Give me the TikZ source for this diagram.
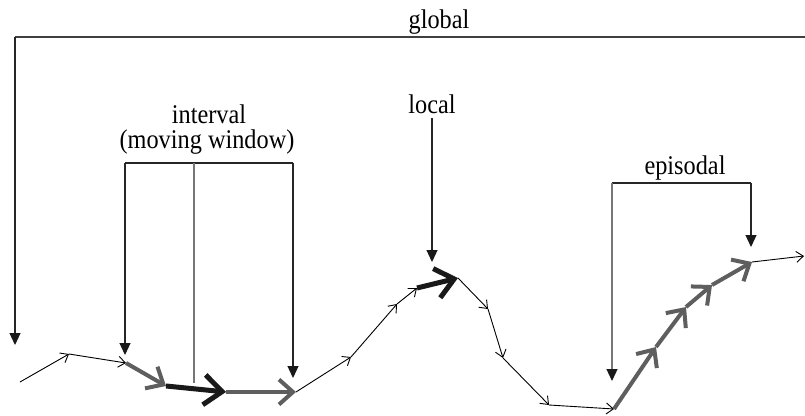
\documentclass[tikz,border=0pt]{standalone}
\usepackage{fontspec}
\setmainfont[FakeStretch=0.9]{Liberation Serif}
\usetikzlibrary{arrows.meta}
\definecolor{dgray}{HTML}{5E5E5E}
\definecolor{lgray}{HTML}{777777}
\begin{document}
\begin{tikzpicture}[x=1pt,y=-1pt,
  lbl/.style={font=\fontsize{27}{30}\selectfont, inner sep=0pt, anchor=base},
  seg/.style={black, line width=0.9pt, -{Straight Barb[length=7pt,width=11pt]}},
  gseg/.style={dgray, line width=4pt, -{Straight Barb[length=14pt,width=25pt]}},
  bseg/.style={black!90, line width=5pt, -{Straight Barb[length=18pt,width=30pt]}},
  brk/.style={line width=1.2pt, black!85},
  pointer/.style={brk, -{Triangle[length=12pt,width=11pt,color=black!90]}},
]
\useasboundingbox (0,0) rectangle (805,415);

% labels
\node[lbl] (global) at (439,28) {global};
\node[lbl] (interval) at (209,123) {interval};
\node[lbl] (window) at (207,148) {(moving window)};
\node[lbl] (local) at (432,113) {local};
\node[lbl] (episodal) at (685,174) {episodal};

% path points
\coordinate (p0) at (20,382);
\coordinate (p1) at (69,354);
\coordinate (p2) at (126,363);
\coordinate (p3) at (166,386);
\coordinate (p4) at (226,392);
\coordinate (p5) at (296,392);
\coordinate (p6) at (351,357);
\coordinate (p7) at (397,304);
\coordinate (p8) at (417,288);
\coordinate (p9) at (458,278);
\coordinate (p10) at (488,309);
\coordinate (p11) at (503,358);
\coordinate (p12) at (549,405);
\coordinate (p13) at (614,409);
\coordinate (p14) at (656,347);
\coordinate (p15) at (686,307);
\coordinate (p16) at (712,285);
\coordinate (p17) at (752,262);
\coordinate (p18) at (804,256);

\draw[seg] (p0) -- (p1);
\draw[seg] (p1) -- (p2);
\draw[gseg] (p2) -- (p3);
\draw[bseg] (p3) -- (p4);
\draw[gseg] (p4) -- (p5);
\draw[seg] (p5) -- (p6);
\draw[seg] (p6) -- (p7);
\draw[seg] (p7) -- (p8);
\draw[bseg] (p8) -- (p9);
\draw[seg] (p9) -- (p10);
\draw[seg] (p10) -- (p11);
\draw[seg] (p11) -- (p12);
\draw[seg] (p12) -- (p13);
\draw[gseg] (p13) -- (p14);
\draw[gseg] (p14) -- (p15);
\draw[gseg] (p15) -- (p16);
\draw[gseg] (p16) -- (p17);
\draw[seg] (p17) -- (p18);

% global bracket
\coordinate (gL) at (15,37);
\coordinate (gR) at (806,37);
\coordinate (gT) at (15,345);
\draw[brk, black!75] (gR) -- (gL);
\draw[pointer] (gL) -- (gT);

% interval bracket
\coordinate (iL) at (125,163);
\coordinate (iM) at (194,163);
\coordinate (iR) at (293,163);
\coordinate (iLT) at (125,355);
\coordinate (iMB) at (194,383);
\coordinate (iRT) at (293,378);
\draw[brk] (iL) -- (iR);
\draw[pointer] (iL) -- (iLT);
\draw[pointer] (iR) -- (iRT);
\draw[brk, lgray] (iM) -- (iMB);

% local
\coordinate (lT) at (432,118);
\coordinate (lB) at (432,262);
\draw[pointer] (lT) -- (lB);

% episodal bracket
\coordinate (eL) at (612,183);
\coordinate (eR) at (751,183);
\coordinate (eLT) at (612,381);
\coordinate (eRT) at (751,247);
\draw[brk] (eL) -- (eR);
\draw[pointer, lgray] (eL) -- (eLT);
\draw[pointer] (eR) -- (eRT);
\end{tikzpicture}
\end{document}
